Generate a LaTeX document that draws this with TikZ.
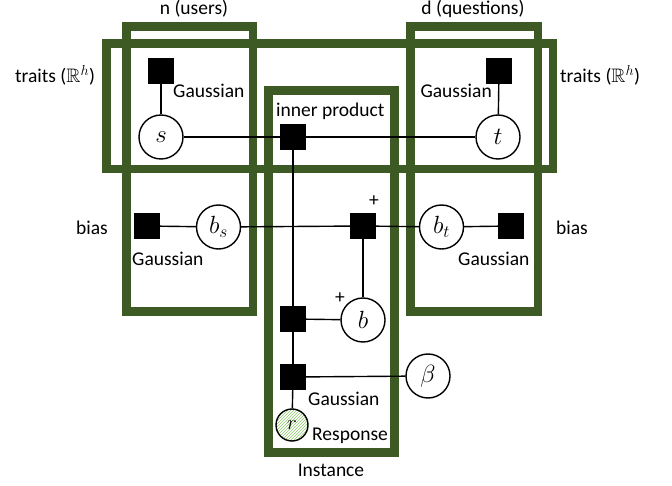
\documentclass[tikz,border=0pt]{standalone}
\usepackage{fontspec}
\usepackage{amssymb}
\setmainfont{Carlito}
\usetikzlibrary{patterns}
\definecolor{plategreen}{RGB}{61,90,37}
\definecolor{hatchgreen}{RGB}{140,200,110}
\begin{document}
\begin{tikzpicture}[x=1pt,y=1pt,
  plate/.style={draw=plategreen, line width=8.5pt},
  fac/.style={fill=black, draw=none, minimum size=26pt, inner sep=0pt},
  var/.style={circle, draw=black, line width=1.4pt, minimum size=44pt, inner sep=0pt, fill=white, font=\fontsize{24}{28}\selectfont},
  lbl/.style={font=\fontsize{19.5}{22}\selectfont, inner sep=0pt},
  edge/.style={line width=1.4pt}]
\useasboundingbox (0,0) rectangle (672,485);
% plates
\draw[plate] (126.5,458.5) rectangle (253,173.5);
\draw[plate] (410.5,458.5) rectangle (538,173.5);
\draw[plate] (106.5,441.5) rectangle (553,316);
\draw[plate] (268.5,394.5) rectangle (394.5,32.5);
% plate labels
\node[lbl, anchor=base] (nlab) at (194,470) {n (users)};
\node[lbl, anchor=base] (dlab) at (473,470) {d (questions)};
\node[lbl, anchor=base west] (trl) at (15,402) {traits ($\mathbb{R}^h$)};
\node[lbl, anchor=base west] (trr) at (560,402) {traits ($\mathbb{R}^h$)};
\node[lbl, anchor=base east] (biasl) at (108,250) {bias};
\node[lbl, anchor=base west] (biasr) at (556,250) {bias};
\node[lbl, anchor=base] (inst) at (331,9) {Instance};
% nodes
\node[var] (s) at (161,348) {$s$};
\node[fac] (gs) at (161,414) {};
\node[lbl, anchor=base west] (gsl) at (173,387) {Gaussian};
\node[var] (t) at (498,348) {$t$};
\node[fac] (gt) at (499,414) {};
\node[lbl, anchor=base east] (gtl) at (492,387) {Gaussian};
\node[fac] (ip) at (293,348) {};
\node[lbl, anchor=base west] (ipl) at (276,368) {inner product};
\node[fac] (fbs) at (147,259) {};
\node[var] (bs) at (218.5,258) {$b_s$};
\node[lbl, anchor=base west] (fbsl) at (132,219) {Gaussian};
\node[fac] (plus) at (363,259) {};
\node[lbl] (plusl) at (374,284) {+};
\node[var] (bt) at (441.5,258) {$b_t$};
\node[fac] (fbt) at (511,259) {};
\node[lbl, anchor=base west] (fbtl) at (458,219) {Gaussian};
\node[var] (b) at (363,165) {$b$};
\node[lbl] (bplus) at (340,187) {+};
\node[fac] (fsum) at (293,166) {};
\node[fac] (fg) at (293,108) {};
\node[lbl, anchor=base west] (fgl) at (308,80) {Gaussian};
\node[var] (beta) at (428,109) {$\beta$};
\node[var, minimum size=32pt, fill=none, font=\fontsize{21}{24}\selectfont,
  pattern=north east lines, pattern color=hatchgreen] (r) at (292,60) {$r$};
\node[lbl, anchor=base west] (rl) at (312,45) {Response};
% edges
\draw[edge] (gs) -- (s);
\draw[edge] (gt) -- (t);
\draw[edge] (s) -- (ip);
\draw[edge] (ip) -- (t);
\draw[edge] (fbs) -- (bs);
\draw[edge] (bs) -- (plus);
\draw[edge] (plus) -- (bt);
\draw[edge] (bt) -- (fbt);
\draw[edge] (ip) -- (fsum);
\draw[edge] (plus) -- (b);
\draw[edge] (fsum) -- (b);
\draw[edge] (fsum) -- (fg);
\draw[edge] (fg) -- (beta);
\draw[edge] (fg) -- (r);
\end{tikzpicture}
\end{document}
